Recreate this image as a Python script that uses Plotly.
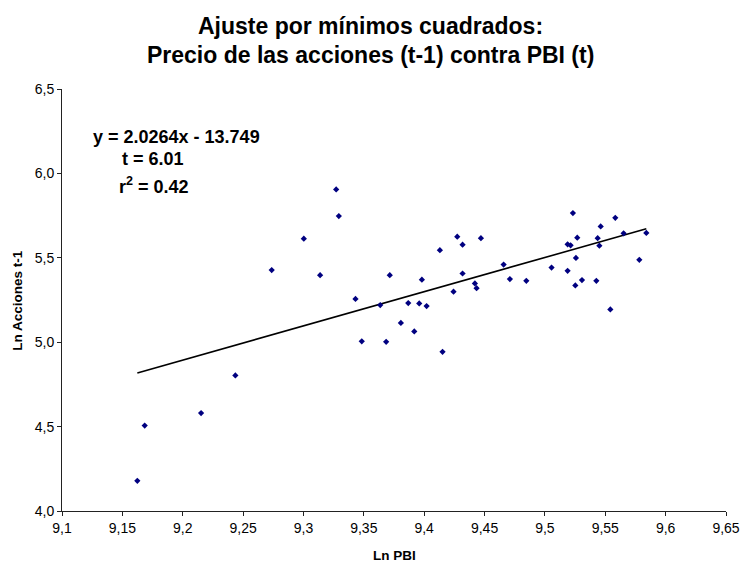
import plotly.graph_objects as go

# Data
ln_pbi = [9.1624, 9.1685, 9.2152, 9.2436, 9.2737, 9.3003, 9.3138, 9.3271, 9.3293, 9.3431,
          9.3483, 9.3636, 9.3685, 9.3715, 9.3807, 9.3868, 9.3918, 9.3959, 9.3981, 9.4020,
          9.4130, 9.4152, 9.4243, 9.4274, 9.4318, 9.4318, 9.4420, 9.4434, 9.4470, 9.4658,
          9.4710, 9.4846, 9.5055, 9.5188, 9.5188, 9.5213, 9.5232, 9.5252, 9.5257, 9.5268,
          9.5307, 9.5426, 9.5437, 9.5451, 9.5462, 9.5542, 9.5583, 9.5652, 9.5782, 9.5840]
ln_acciones = [4.179, 4.506, 4.580, 4.803, 5.427, 5.613, 5.397, 5.905, 5.747, 5.256,
               5.005, 5.220, 5.002, 5.397, 5.114, 5.232, 5.064, 5.230, 5.370, 5.214,
               5.545, 4.943, 5.299, 5.625, 5.578, 5.407, 5.348, 5.320, 5.616, 5.460,
               5.374, 5.364, 5.442, 5.423, 5.580, 5.574, 5.765, 5.336, 5.499, 5.619,
               5.368, 5.364, 5.616, 5.572, 5.686, 5.194, 5.737, 5.645, 5.488, 5.647]

slope = 2.0264
intercept = -13.749
t_stat = 6.01
r2 = 0.42

x_ticks = [9.1, 9.15, 9.2, 9.25, 9.3, 9.35, 9.4, 9.45, 9.5, 9.55, 9.6, 9.65]
x_ticklabels = ["9,1", "9,15", "9,2", "9,25", "9,3", "9,35", "9,4", "9,45", "9,5", "9,55", "9,6", "9,65"]
y_ticks = [4.0, 4.5, 5.0, 5.5, 6.0, 6.5]
y_ticklabels = ["4,0", "4,5", "5,0", "5,5", "6,0", "6,5"]

title_line1 = "Ajuste por mínimos cuadrados:"
title_line2 = "Precio de las acciones (t-1) contra PBI (t)"
x_title = "Ln PBI"
y_title = "Ln Acciones t-1"

FONT = "Liberation Sans, Arial, sans-serif"

W, H = 741, 562
ML, MR, MT, MB = 62, 15, 89, 51
PW, PH = W - ML - MR, H - MT - MB


def px_x(px):
    return (px - ML) / PW


def px_y(py):
    return 1 - (py - MT) / PH


fit_x = [min(ln_pbi), max(ln_pbi)]
fit_y = [slope * v + intercept for v in fit_x]

fig = go.Figure()
fig.add_trace(go.Scatter(x=fit_x, y=fit_y, mode="lines",
                         line=dict(color="black", width=1.6), hoverinfo="skip"))
fig.add_trace(go.Scatter(x=ln_pbi, y=ln_acciones, mode="markers",
                         marker=dict(symbol="diamond", size=4.8, color="#000080",
                                     line=dict(width=0))))

axis_common = dict(showgrid=False, zeroline=False, showline=True, linecolor="#222", linewidth=1,
                   ticks="outside", ticklen=4, tickcolor="#222", automargin=False,
                   tickfont=dict(size=14, family=FONT, color="black"))

fig.update_layout(
    width=W, height=H,
    showlegend=False,
    paper_bgcolor="white", plot_bgcolor="white",
    margin=dict(l=ML, r=MR, t=MT, b=MB),
    font=dict(family=FONT, size=14, color="black"),
    xaxis=dict(range=[9.1, 9.65], tickvals=x_ticks, ticktext=x_ticklabels, **axis_common),
    yaxis=dict(range=[4.0, 6.5], tickvals=y_ticks, ticktext=y_ticklabels, **axis_common),
)

# title lines
fig.add_annotation(xref="paper", yref="paper", x=px_x(370.5), y=px_y(26.5),
                   text=f"<b>{title_line1}</b>", showarrow=False,
                   xanchor="center", yanchor="middle", font=dict(size=23))
fig.add_annotation(xref="paper", yref="paper", x=px_x(370.5), y=px_y(55.5),
                   text=f"<b>{title_line2}</b>", showarrow=False,
                   xanchor="center", yanchor="middle", font=dict(size=23))

# axis titles
fig.add_annotation(xref="paper", yref="paper", x=0.5, y=px_y(555),
                   text=f"<b>{x_title}</b>", showarrow=False,
                   xanchor="center", yanchor="middle", font=dict(size=13.5))
fig.add_annotation(xref="paper", yref="paper", x=px_x(16.7), y=0.5, textangle=-90,
                   text=f"<b>{y_title}</b>", showarrow=False,
                   xanchor="center", yanchor="middle", font=dict(size=13.5))

# regression text box
fig.add_annotation(xref="paper", yref="paper", x=px_x(90.7), y=px_y(136.7),
                   text=f"<b>y = {slope}x - {abs(intercept)}</b>", showarrow=False,
                   xanchor="left", yanchor="middle", font=dict(size=18))
fig.add_annotation(xref="paper", yref="paper", x=px_x(120), y=px_y(159),
                   text=f"<b>t = {t_stat}</b>", showarrow=False,
                   xanchor="left", yanchor="middle", font=dict(size=18))
fig.add_annotation(xref="paper", yref="paper", x=px_x(116.7), y=px_y(185.5),
                   text=f"<b>r<sup>2</sup> = {r2}</b>", showarrow=False,
                   xanchor="left", yanchor="middle", font=dict(size=18))

fig.write_html("out.html",
               config={"displayModeBar": False},
               post_script="document.body.style.margin='0';document.body.style.overflow='hidden';")
